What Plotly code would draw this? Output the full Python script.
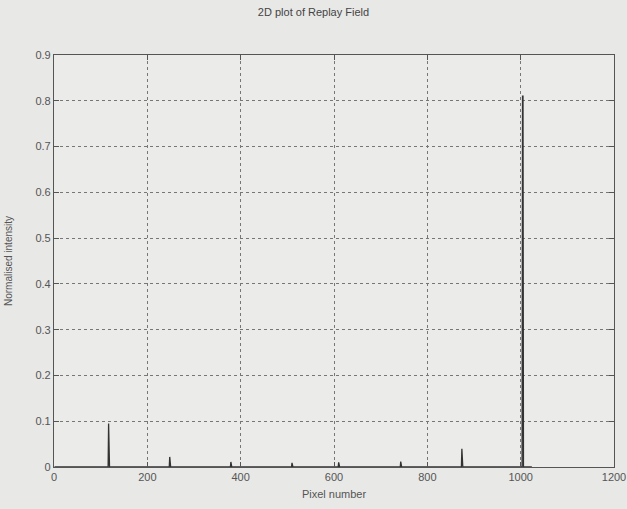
import numpy as np
import plotly.graph_objects as go

# Data
n_pixels = 1024
peak_pixels = [117, 248, 379, 510, 610, 743, 874, 1004, 1005]
peak_values = [0.095, 0.022, 0.011, 0.009, 0.010, 0.012, 0.040, 0.81, 0.81]
x_ticks = [0, 200, 400, 600, 800, 1000, 1200]
y_ticks = [0, 0.1, 0.2, 0.3, 0.4, 0.5, 0.6, 0.7, 0.8, 0.9]

pixels = np.arange(1, n_pixels + 1)
intensity = np.zeros(n_pixels)
for p, v in zip(peak_pixels, peak_values):
    intensity[p - 1] = v

fig = go.Figure()
fig.add_trace(go.Scatter(x=pixels, y=intensity, mode="lines",
                         line=dict(color="#333333", width=1.3),
                         showlegend=False, hoverinfo="x+y"))

FONT = "Liberation Sans, Arial, sans-serif"
axis_common = dict(
    showline=True, linecolor="#555555", linewidth=1.2, mirror="allticks",
    ticks="inside", ticklen=5, tickcolor="#555555",
    showgrid=True, gridcolor="#777777", griddash="dot", gridwidth=1,
    zeroline=False, automargin=False,
    tickfont=dict(family=FONT, size=11, color="#555555"),
)

fig.update_layout(
    width=627, height=509, autosize=False,
    paper_bgcolor="#e8e8e6", plot_bgcolor="#ebebea",
    margin=dict(l=54, r=13, t=55, b=42),
    title=dict(text="2D plot of Replay Field", x=0.5, xanchor="center",
               y=0.977, yanchor="middle",
               font=dict(family=FONT, size=11, color="#444444")),
    xaxis=dict(range=[0, 1200], tickvals=x_ticks,
               title=dict(text="Pixel number", standoff=8,
                          font=dict(family=FONT, size=11, color="#555555")),
               **axis_common),
    yaxis=dict(range=[0, 0.9], tickvals=y_ticks, ticktext=[("%g" % v) for v in y_ticks],
               title=dict(text="Normalised intensity", standoff=20,
                          font=dict(family=FONT, size=10, color="#555555")),
               **axis_common),
)

fig.write_html("out.html",
               config={"responsive": False, "displayModeBar": False},
               post_script="document.body.style.margin='0';document.body.style.overflow='hidden';")
